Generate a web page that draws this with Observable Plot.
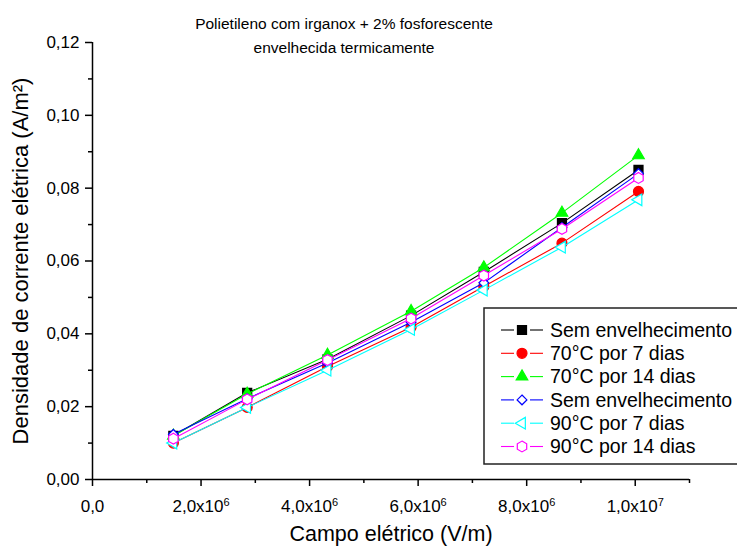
<!DOCTYPE html>
<html><head><meta charset="utf-8">
<script src="https://cdn.jsdelivr.net/npm/d3@7"></script>
<script src="https://cdn.jsdelivr.net/npm/@observablehq/plot@0.6"></script>
<style>body{margin:0;background:#fff;font-family:"Liberation Sans",Arial,sans-serif}</style>
</head><body><div id="chart"></div>
<script>
// Data
const campo = [1.49e6, 2.85e6, 4.33e6, 5.87e6, 7.21e6, 8.65e6, 10.06e6];
const semEnv70 = [0.0120, 0.0238, 0.0330, 0.0450, 0.0570, 0.0704, 0.0850];
const c70d7    = [0.0100, 0.0198, 0.0310, 0.0418, 0.0530, 0.0649, 0.0791];
const c70d14   = [0.0120, 0.0235, 0.0342, 0.0462, 0.0582, 0.0732, 0.0890];
const semEnv90 = [0.0124, 0.0222, 0.0320, 0.0432, 0.0540, 0.0692, 0.0840];
const c90d7    = [0.0100, 0.0198, 0.0300, 0.0412, 0.0520, 0.0638, 0.0768];
const c90d14   = [0.0112, 0.0220, 0.0328, 0.0442, 0.0560, 0.0688, 0.0828];
const seriesValues = [semEnv70, c70d7, c70d14, semEnv90, c90d7, c90d14];
const seriesNames = ["Sem envelhecimento", "70°C por 7 dias", "70°C por 14 dias", "Sem envelhecimento", "90°C por 7 dias", "90°C por 14 dias"];
const seriesColors = ["#000000", "#ff0000", "#00ff00", "#0000ff", "#00ffff", "#ff00ff"];
const seriesFilled = [true, true, true, false, false, false];
const xMajorTicks = [0, 2e6, 4e6, 6e6, 8e6, 1e7];
const xMinorTicks = [1e6, 3e6, 5e6, 7e6, 9e6, 1.1e7];
const xTickMantissa = ["0,0", "2,0x10", "4,0x10", "6,0x10", "8,0x10", "1,0x10"];
const xTickExponent = ["", "6", "6", "6", "6", "7"];
const yMajorTicks = [0, 0.02, 0.04, 0.06, 0.08, 0.10, 0.12];
const yMinorTicks = [0.01, 0.03, 0.05, 0.07, 0.09, 0.11];
const yTickLabels = ["0,00", "0,02", "0,04", "0,06", "0,08", "0,10", "0,12"];
const titleLines = ["Polietileno com irganox + 2% fosforescente", "envelhecida termicamente"];
const xLabel = "Campo elétrico (V/m)";
const yLabel = "Densidade de corrente elétrica (A/m²)";

// symbols
const hexagon = {draw(ctx, size) {
  const rx = Math.sqrt(size / Math.PI), ry = rx * Math.sqrt(4 / 3), hy = ry / 2;
  ctx.moveTo(0, -ry); ctx.lineTo(rx, -hy); ctx.lineTo(rx, hy); ctx.lineTo(0, ry);
  ctx.lineTo(-rx, hy); ctx.lineTo(-rx, -hy); ctx.closePath();
}};
const triangleLeft = {draw(ctx, size) {
  const y = -Math.sqrt(size / (Math.sqrt(3) * 3));
  ctx.moveTo(2 * y, 0);
  ctx.lineTo(-y, Math.sqrt(3) * y);
  ctx.lineTo(-y, -Math.sqrt(3) * y);
  ctx.closePath();
}};
const seriesSymbols = [d3.symbolSquare, d3.symbolCircle, d3.symbolTriangle, d3.symbolDiamond2, triangleLeft, hexagon];
const seriesR = [5.1, 5, 4.3, 4.4, 4.3, 4.7];

const marks = [];
seriesValues.forEach((vals, i) => {
  const rows = campo.map((x, j) => ({x, y: vals[j]}));
  marks.push(Plot.line(rows, {x: "x", y: "y", stroke: seriesColors[i], strokeWidth: 1.1}));
  marks.push(Plot.dot(rows, {x: "x", y: "y", symbol: seriesSymbols[i], r: seriesR[i],
    fill: seriesFilled[i] ? seriesColors[i] : "white", stroke: seriesColors[i], strokeWidth: 1.2}));
});

const chart = Plot.plot({
  width: 737, height: 552,
  marginLeft: 92, marginRight: 48, marginTop: 42, marginBottom: 73,
  style: {fontFamily: "'Liberation Sans', Arial, sans-serif", background: "white", color: "black"},
  x: {domain: [0, 1.1e7]},
  y: {domain: [0, 0.12]},
  marks: [
    ...marks,
    Plot.axisX(xMajorTicks, {tickSize: 7, tickPadding: 13, strokeWidth: 1.5, fontSize: 17,
      tickFormat: (d) => xTickMantissa[xMajorTicks.indexOf(d)], label: null}),
    Plot.axisX(xMinorTicks, {tickSize: 4, strokeWidth: 1.5, text: null, label: null}),
    Plot.axisY(yMajorTicks, {tickSize: 7, tickPadding: 6, strokeWidth: 1.5, fontSize: 17,
      tickFormat: (d) => yTickLabels[yMajorTicks.indexOf(d)], label: null}),
    Plot.axisY(yMinorTicks, {tickSize: 4, strokeWidth: 1.5, text: null, label: null}),
    Plot.ruleX([0], {strokeWidth: 1.5}),
    Plot.ruleY([0], {strokeWidth: 1.5}),
    Plot.text([titleLines[0]], {frameAnchor: "top", dx: -47, dy: -25, fontSize: 15.5}),
    Plot.text([titleLines[1]], {frameAnchor: "top", dx: -47, dy: -1, fontSize: 15.5}),
    Plot.text([xLabel], {frameAnchor: "bottom", dy: 61, fontSize: 21.5}),
    Plot.text([yLabel], {frameAnchor: "left", textAnchor: "middle", dx: -72, rotate: -90, fontSize: 22})
  ]
});
document.getElementById("chart").appendChild(chart);

const svg = d3.select(chart);
// superscript exponents on x tick labels
svg.selectAll("text").each(function() {
  const t = d3.select(this);
  const idx = xTickMantissa.indexOf(t.text());
  if (idx > 0 && xTickExponent[idx]) {
    t.append("tspan").attr("dy", "-0.55em").attr("font-size", 11).text(xTickExponent[idx]);
  }
});

// Legend
const lg = svg.append("g").attr("font-family", "'Liberation Sans', Arial, sans-serif");
lg.append("rect").attr("x", 484).attr("y", 308).attr("width", 270).attr("height", 156)
  .attr("fill", "white").attr("stroke", "#222").attr("stroke-width", 1.5);
seriesNames.forEach((name, i) => {
  const y = 330 + i * 23.3;
  [[501, 514], [530, 543]].forEach(([a, b]) => {
    lg.append("line").attr("x1", a).attr("x2", b).attr("y1", y).attr("y2", y)
      .attr("stroke", seriesColors[i]).attr("stroke-width", 1.1);
  });
  lg.append("path").attr("transform", `translate(522,${y})`)
    .attr("d", d3.symbol().type(seriesSymbols[i]).size(seriesR[i] * seriesR[i] * Math.PI)())
    .attr("fill", seriesFilled[i] ? seriesColors[i] : "white")
    .attr("stroke", seriesColors[i]).attr("stroke-width", 1.2);
  lg.append("text").attr("x", 550).attr("y", y).attr("dy", "0.35em")
    .attr("text-anchor", "start").attr("font-size", 19.5).attr("fill", "black").text(name);
});
</script></body></html>
